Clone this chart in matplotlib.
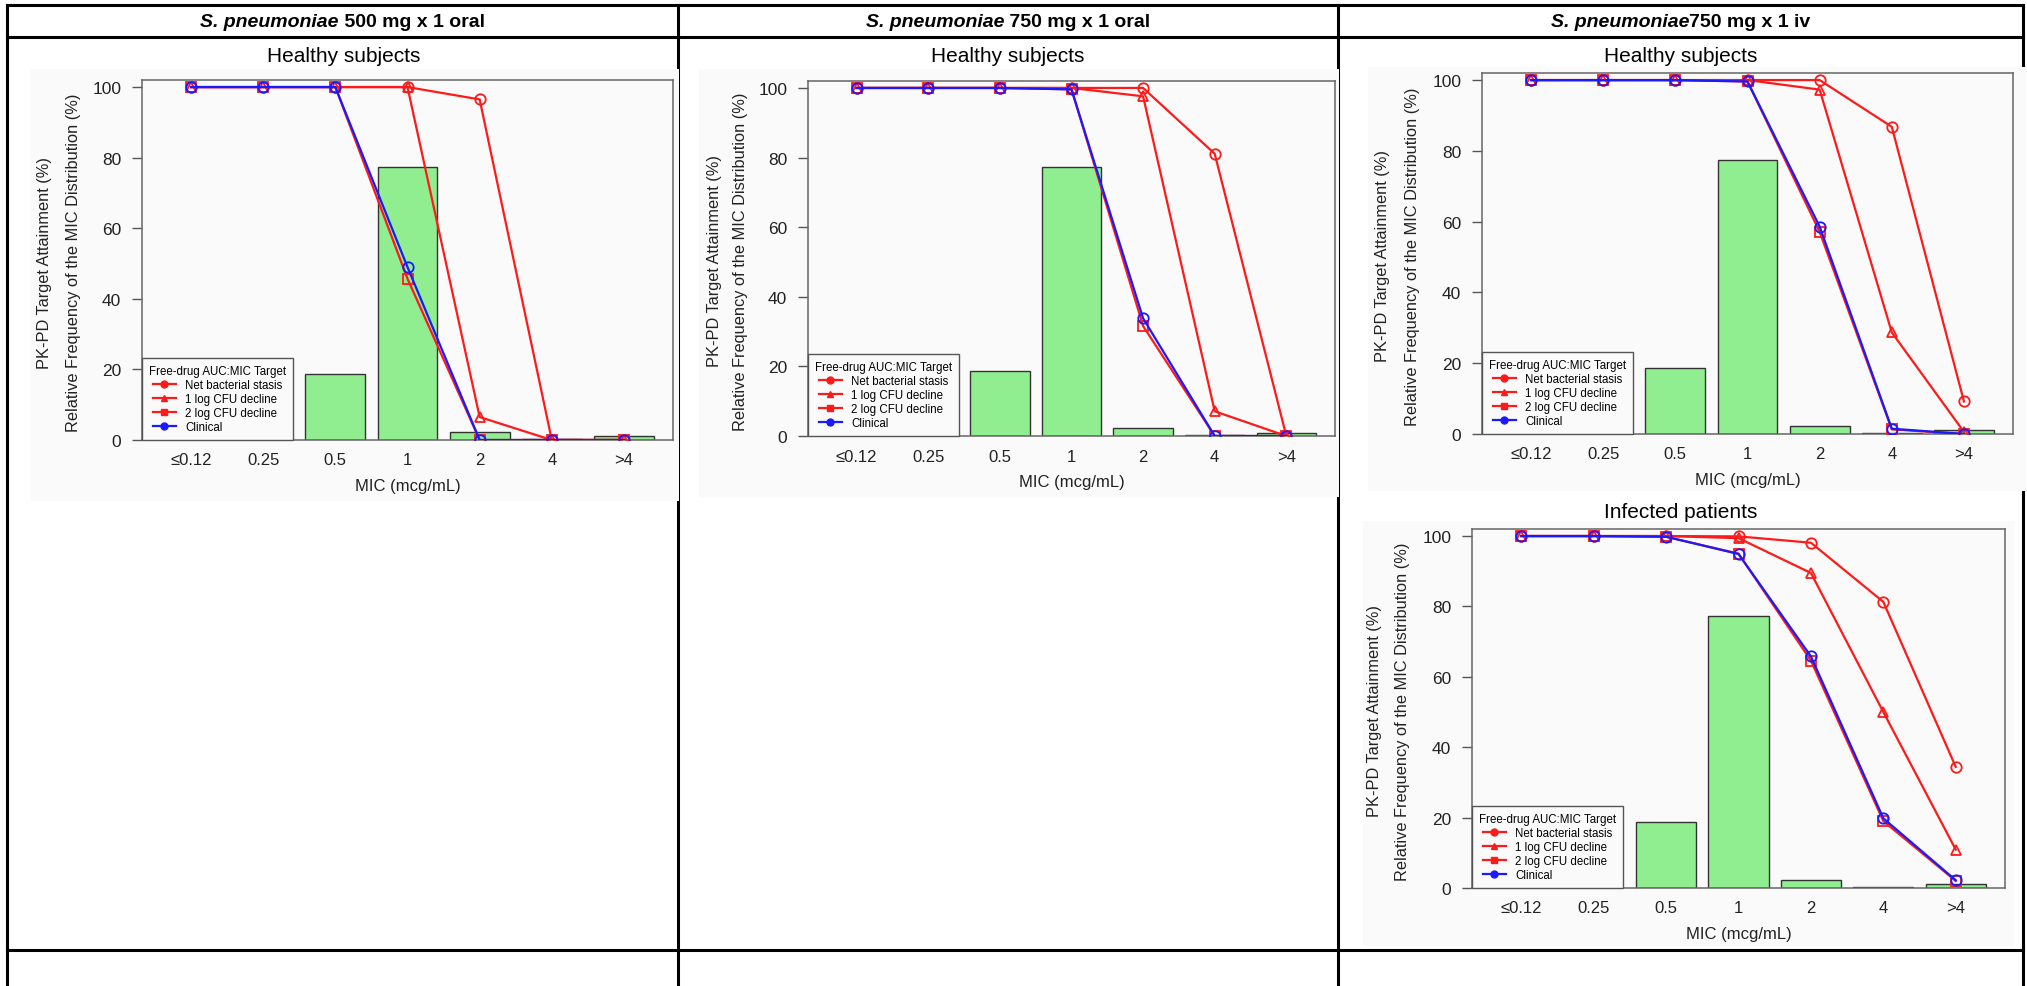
import matplotlib
matplotlib.use('Agg')
import matplotlib.pyplot as plt
from matplotlib import font_manager
from matplotlib.lines import Line2D
from matplotlib.patches import Rectangle

W, H = 2027, 987
DPI = 100

plt.rcParams['font.family'] = ['Liberation Sans', 'DejaVu Sans']
installed = {f.name for f in font_manager.fontManager.ttflist}
HAS_NARROW = 'Liberation Sans Narrow' in installed
NARROW = ['Liberation Sans Narrow', 'Liberation Sans', 'DejaVu Sans']
HEAD_SIZE = 17 if HAS_NARROW else 14
SUB_SIZE = 18 if HAS_NARROW else 15

# ---- data ----
mic_labels = ['≤0.12', '0.25', '0.5', '1', '2', '4', '>4']
mic_freq = [0.0, 0.0, 18.7, 77.3, 2.3, 0.2, 1.0]

series_names = ['Net bacterial stasis', '1 log CFU decline', '2 log CFU decline', 'Clinical']

oral500_stasis = [100, 100, 100, 100, 96.5, 0, 0]
oral500_1log = [100, 100, 100, 100, 6.5, 0, 0]
oral500_2log = [100, 100, 100, 45.7, 0, 0, 0]
oral500_clin = [100, 100, 100, 49.0, 0, 0, 0]

oral750_stasis = [100, 100, 100, 100, 100, 81.1, 0]
oral750_1log = [100, 100, 100, 100, 97.6, 7.1, 0]
oral750_2log = [100, 100, 100, 99.6, 31.6, 0, 0]
oral750_clin = [100, 100, 100, 99.6, 33.8, 0, 0]

iv750_stasis = [100, 100, 100, 100, 100, 86.8, 9.2]
iv750_1log = [100, 100, 100, 100, 97.3, 28.7, 0.6]
iv750_2log = [100, 100, 100, 99.6, 57.1, 1.3, 0]
iv750_clin = [100, 100, 100, 99.6, 58.6, 1.5, 0]

inf750_stasis = [100, 100, 100, 99.9, 98.1, 81.3, 34.4]
inf750_1log = [100, 100, 100, 99.4, 89.5, 50.0, 10.9]
inf750_2log = [100, 100, 99.8, 95.0, 64.6, 19.0, 2.0]
inf750_clin = [100, 100, 99.8, 94.9, 65.8, 19.8, 2.2]

headers = [('S. pneumoniae', ' 500 mg x 1 oral'),
           ('S. pneumoniae', ' 750 mg x 1 oral'),
           ('S. pneumoniae', '750 mg x 1 iv')]

RED = '#ff1a1a'
BLUE = '#1a1aff'
BG = '#fafafa'


def fx(px):
    return px / W


def fy(py):
    return 1 - py / H


fig = plt.figure(figsize=(W / DPI, H / DPI), dpi=DPI)

# ---- table grid ----
tbl = dict(color='black', lw=2.2, zorder=0)
for x in (7, 678, 1338, 2023):
    fig.add_artist(Line2D([fx(x), fx(x)], [fy(6), 0], **tbl))
for y in (6, 37.5, 951):
    fig.add_artist(Line2D([fx(7), fx(2023)], [fy(y), fy(y)], **tbl))

# header texts (bold italic species + bold rest), centred per column
renderer = fig.canvas.get_renderer()
for (sp, rest), (c0, c1) in zip(headers, [(7, 678), (678, 1338), (1338, 2023)]):
    t1 = fig.text(0, fy(22.5), sp, fontsize=HEAD_SIZE, fontweight='bold', fontstyle='italic',
                  va='center', family=NARROW)
    t2 = fig.text(0, fy(22.5), rest, fontsize=HEAD_SIZE, fontweight='bold', va='center', family=NARROW)
    w1 = t1.get_window_extent(renderer).width
    w2 = t2.get_window_extent(renderer).width
    x0 = (c0 + c1) / 2 - (w1 + w2) / 2
    t1.set_x(fx(x0))
    t2.set_x(fx(x0 + w1))


def panel(bg, box, sub_xy, sub_text, ylab_x, xlab_y, stasis, one_log, two_log, clin):
    # light grey picture background that hides the grid lines under it
    fig.add_artist(Rectangle((fx(bg[0]), fy(bg[3])), (bg[2] - bg[0]) / W, (bg[3] - bg[1]) / H,
                             transform=fig.transFigure, facecolor=BG, edgecolor='none', zorder=1))
    fig.text(fx(sub_xy[0]), fy(sub_xy[1]), sub_text, fontsize=SUB_SIZE, ha='center', va='center',
             zorder=3, family=NARROW)

    ax = fig.add_axes([fx(box[0]), fy(box[3]), (box[2] - box[0]) / W, (box[3] - box[1]) / H], zorder=2)
    ax.set_facecolor(BG)
    x = list(range(len(mic_labels)))
    ax.bar(x, mic_freq, width=0.83, color='#90ee90', edgecolor='#333333', linewidth=1, zorder=2)

    styles = [(stasis, RED, 'o'), (one_log, RED, '^'), (two_log, RED, 's'), (clin, BLUE, 'o')]
    for vals, col, mk in styles:
        ax.plot(x, vals, color=col, lw=1.6, marker=mk, ms=7.5, mfc='none', mec=col, mew=1.3, zorder=3)

    ax.set_xlim(-0.68, 6.68)
    ax.set_ylim(0, 102)
    ax.set_yticks([0, 20, 40, 60, 80, 100])
    ax.set_xticks(x)
    ax.set_xticklabels(mic_labels)
    ax.tick_params(axis='y', length=7, width=1, color='#555555', pad=8, labelsize=12.5, labelcolor='#222222')
    ax.tick_params(axis='x', length=0, pad=9, labelsize=12, labelcolor='#222222')
    for s in ax.spines.values():
        s.set_color('#666666')
        s.set_linewidth(1.1)

    handles = [Line2D([], [], color=c, lw=1.6, marker=m, ms=5) for _, c, m in styles]
    leg = ax.legend(handles, series_names, title='Free-drug AUC:MIC Target', loc='lower left',
                    bbox_to_anchor=(0, 0), borderaxespad=0, fontsize=8.3, title_fontsize=8.3,
                    handlelength=2.0, handletextpad=0.8, labelspacing=0.18, borderpad=0.6,
                    fancybox=False, framealpha=1, facecolor=BG, edgecolor='#555555')
    leg.get_frame().set_linewidth(1)
    leg.set_zorder(4)

    yc = (box[1] + box[3]) / 2 + 2
    fig.text(fx(ylab_x[0]), fy(yc), 'PK-PD Target Attainment (%)', rotation=90,
             fontsize=11.8, ha='center', va='center', color='#222222', zorder=3)
    fig.text(fx(ylab_x[1]), fy(yc), 'Relative Frequency of the MIC Distribution (%)', rotation=90,
             fontsize=11.8, ha='center', va='center', color='#222222', zorder=3)
    fig.text(fx((box[0] + box[2]) / 2), fy(xlab_y), 'MIC (mcg/mL)', fontsize=12,
             ha='center', va='center', color='#222222', zorder=3)
    return ax


panel(bg=(31, 70, 679, 502), box=(142, 81, 673, 441), sub_xy=(344, 56), sub_text='Healthy subjects',
      ylab_x=(45, 74), xlab_y=487,
      stasis=oral500_stasis, one_log=oral500_1log, two_log=oral500_2log, clin=oral500_clin)

panel(bg=(699, 70, 1339, 498), box=(808, 82, 1335, 437), sub_xy=(1008, 56), sub_text='Healthy subjects',
      ylab_x=(714, 741), xlab_y=483,
      stasis=oral750_stasis, one_log=oral750_1log, two_log=oral750_2log, clin=oral750_clin)

panel(bg=(1368, 68, 2025, 492), box=(1482, 74, 2013, 435), sub_xy=(1681, 56), sub_text='Healthy subjects',
      ylab_x=(1383, 1412), xlab_y=481,
      stasis=iv750_stasis, one_log=iv750_1log, two_log=iv750_2log, clin=iv750_clin)

panel(bg=(1363, 522, 2014, 947), box=(1472, 530, 2005, 889), sub_xy=(1681, 512), sub_text='Infected patients',
      ylab_x=(1374, 1403), xlab_y=935,
      stasis=inf750_stasis, one_log=inf750_1log, two_log=inf750_2log, clin=inf750_clin)

fig.savefig('out.png', dpi=DPI, facecolor='white')
